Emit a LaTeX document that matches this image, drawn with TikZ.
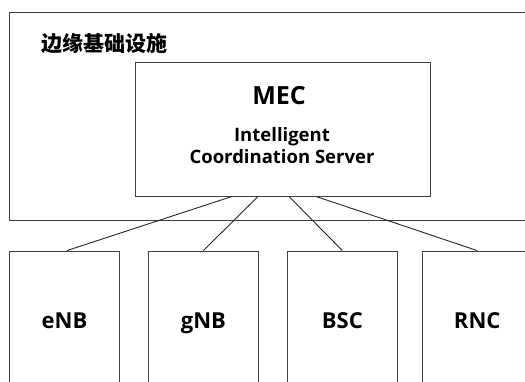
\documentclass[tikz,border=0pt]{standalone}
\usepackage{fontspec}
\setmainfont{Open Sans}
\newfontfamily\cjk{Noto Sans CJK SC}
\usetikzlibrary{positioning}

\begin{document}
\begin{tikzpicture}[x=1pt,y=-1pt,
		box/.style={draw=black!75, line width=0.9pt, inner sep=0pt},
		station/.style={box, minimum width=110pt, minimum height=138pt,
			text height=16pt, text depth=0pt,
			font=\bfseries\fontsize{22}{26}\selectfont},
		link/.style={draw=black!85, line width=0.9pt}
	]
	\useasboundingbox (0,0) rectangle (525,381);
	\clip (0,0) rectangle (525,381);
	% edge infrastructure
	\node[box, minimum width=531pt, minimum height=208pt] (edge) at (274.5,116) {};
	\node[anchor=west, inner sep=0pt, font=\cjk\bfseries\fontsize{21}{24}\selectfont] (edgetitle) at (41,44) {边缘基础设施};
	% MEC server
	\node[box, minimum width=295pt, minimum height=134pt] (mec) at (282.5,129) {};
	\node[font=\bfseries\fontsize{25}{28}\selectfont] (mectitle) at (279,96) {MEC};
	\node[align=center, font=\bfseries\fontsize{18.5}{22}\selectfont] (mecsub) at (282,146) {Intelligent\\Coordination Server};
	% base stations
	\node[station] (enb) at (64.5,320) {eNB};
	\node[station, right=28pt of enb] (gnb) {gNB};
	\node[station, right=28pt of gnb] (bsc) {BSC};
	\node[station, right=24pt of bsc] (rnc) {RNC};
	% links
	\draw[link] ([xshift=-50.5pt]mec.south) -- ([xshift=2.5pt]enb.north);
	\draw[link] ([xshift=-24.5pt]mec.south) -- (gnb.north);
	\draw[link] ([xshift=6.5pt]mec.south) -- (bsc.north);
	\draw[link] ([xshift=33.5pt]mec.south) -- (rnc.north);
\end{tikzpicture}
\end{document}
